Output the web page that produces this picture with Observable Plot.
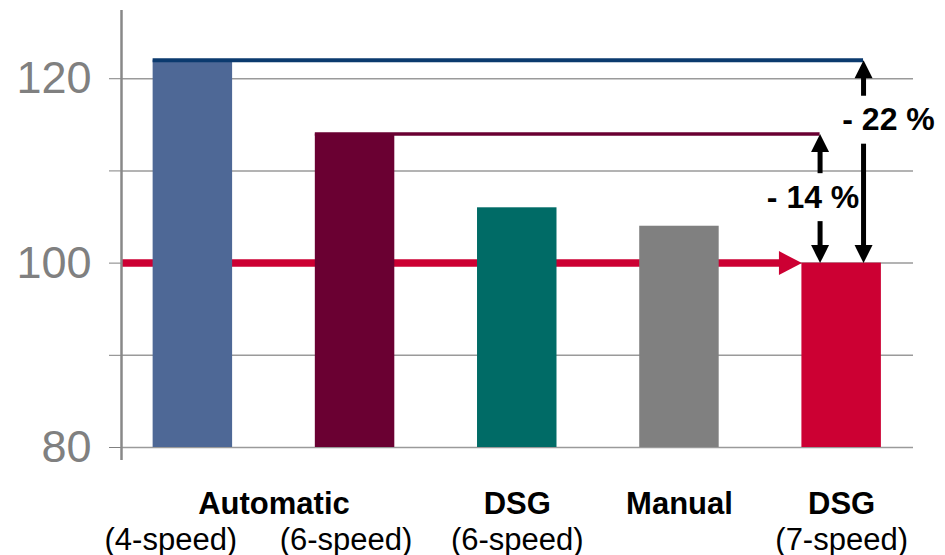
<!DOCTYPE html>
<html><head><meta charset="utf-8">
<script src="https://cdn.jsdelivr.net/npm/d3@7"></script>
<script src="https://cdn.jsdelivr.net/npm/@observablehq/plot@0.6"></script>
<style>body{margin:0;background:#fff;} #chart{width:945px;height:555px;}</style>
</head><body><div id="chart"></div>
<script>
// ---- data ----
const categories = ["Automatic (4-speed)", "Automatic (6-speed)", "DSG (6-speed)", "Manual", "DSG (7-speed)"];
const values = [122, 114, 106, 104, 100];
const barColors = ["#4E6896", "#6A0032", "#006B66", "#808080", "#CC0033"];
const groupLabels = ["Automatic", "DSG", "Manual", "DSG"];
const groupAt = [0.5, 2, 3, 4];            // bar-index position of each group label
const subLabels = ["(4-speed)", "(6-speed)", "(6-speed)", "", "(7-speed)"];
const yTicks = [80, 90, 100, 110, 120];
const yTickLabels = ["80", "", "100", "", "120"];
const deltaLabels = ["- 22 %", "- 14 %"];
const deltaFromBar = [0, 1];               // reference bar index
const deltaToBar = 4;                      // compared bar (DSG 7-speed)
const deltaLabelAt = [115.5, 107.1];       // label height in chart units

// ---- layout helpers ----
const xDomain = [-0.44, 4.443];
const yDomain = [80, 127.4];
const hw = 0.245;                          // half bar width (bar-index units)
const arrowOffset = [0.135, -0.133];       // arrow x offset from compared bar centre
const bars = categories.map((c, i) => ({c, i, v: values[i], color: barColors[i]}));

function tri(dir, len, half) {
  return {draw(ctx) {
    if (dir === "up") { ctx.moveTo(0, 0); ctx.lineTo(-half, len); ctx.lineTo(half, len); }
    else if (dir === "down") { ctx.moveTo(0, 0); ctx.lineTo(-half, -len); ctx.lineTo(half, -len); }
    else { ctx.moveTo(0, 0); ctx.lineTo(-len, -half); ctx.lineTo(-len, half); }
    ctx.closePath();
  }};
}
const triUp = tri("up", 18, 9), triDown = tri("down", 18, 9), triRight = tri("right", 23, 12);

const deltas = deltaLabels.map((label, k) => ({
  label,
  x: deltaToBar + arrowOffset[k],
  top: values[deltaFromBar[k]],
  bottom: values[deltaToBar],
  at: deltaLabelAt[k],
  startX: deltaFromBar[k] - hw
}));
const gap = 2.6, tipPad = 1.0;
const shafts = deltas.flatMap(d => [
  {x: d.x, y1: d.top - tipPad, y2: d.at + gap},
  {x: d.x, y1: d.at - gap, y2: d.bottom + tipPad}
]);

const font = "'Liberation Sans', Arial, Helvetica, sans-serif";

const chart = Plot.plot({
  width: 945,
  height: 555,
  marginLeft: 121,
  marginRight: 32,
  marginTop: 10,
  marginBottom: 108,
  style: {fontFamily: font, fontSize: "45px", color: "#808080", background: "#fff", overflow: "visible"},
  x: {type: "linear", domain: xDomain, axis: null},
  y: {domain: yDomain, ticks: yTicks, tickSize: 12, tickPadding: 18,
      tickFormat: d => yTickLabels[yTicks.indexOf(d)] ?? "", label: null},
  color: {type: "identity"},
  marks: [
    Plot.ruleY(yTicks, {stroke: "#9a9a9a", strokeWidth: 1.5}),
    // red reference arrow (behind bars)
    Plot.ruleY([values[deltaToBar]], {x1: xDomain[0], x2: deltaToBar - hw - 0.07, stroke: "#CC0033", strokeWidth: 7.5}),
    Plot.rect(bars, {x1: d => d.i - hw, x2: d => d.i + hw, y1: yDomain[0], y2: "v", fill: "color"}),
    Plot.dot([{x: deltaToBar - hw, y: values[deltaToBar]}], {x: "x", y: "y", symbol: triRight, fill: "#CC0033", stroke: null, r: 10}),
    // reference lines from the compared bars
    Plot.ruleY([deltas[0]], {y: "top", x1: "startX", x2: "x", stroke: "#0B3A6E", strokeWidth: 4}),
    Plot.ruleY([deltas[1]], {y: "top", x1: "startX", x2: "x", stroke: "#6A0032", strokeWidth: 3.5}),
    // difference arrows
    Plot.ruleX(shafts, {x: "x", y1: "y1", y2: "y2", stroke: "#000", strokeWidth: 5}),
    Plot.dot(deltas, {x: "x", y: "top", symbol: triUp, fill: "#000", stroke: null, r: 10}),
    Plot.dot(deltas, {x: "x", y: "bottom", symbol: triDown, fill: "#000", stroke: null, r: 10}),
    Plot.text([deltas[0]], {x: "x", y: "at", text: "label", dx: 25, fontSize: 32, fontWeight: "bold", fill: "#000"}),
    Plot.text([deltas[1]], {x: "x", y: "at", text: "label", dx: -7, fontSize: 32, fontWeight: "bold", fill: "#000"}),
    // y axis line
    Plot.ruleX([xDomain[0]], {y1: 78.6, y2: yDomain[1], stroke: "#888", strokeWidth: 2.5}),
    // category labels
    Plot.text(groupLabels, {x: (d, i) => groupAt[i], text: d => d, frameAnchor: "bottom", lineAnchor: "bottom", dy: 66, fontSize: 31, fontWeight: "bold", fill: "#000"}),
    Plot.text([0], {x: d => d, text: d => subLabels[d], frameAnchor: "bottom", lineAnchor: "bottom", dy: 102, dx: -22, fontSize: 31, fill: "#000"}),
    Plot.text([1], {x: d => d, text: d => subLabels[d], frameAnchor: "bottom", lineAnchor: "bottom", dy: 102, dx: -9, fontSize: 31, fill: "#000"}),
    Plot.text([2, 3, 4], {x: d => d, text: d => subLabels[d], frameAnchor: "bottom", lineAnchor: "bottom", dy: 102, fontSize: 31, fill: "#000"})
  ]
});
document.getElementById("chart").appendChild(chart);
</script>
</body></html>
